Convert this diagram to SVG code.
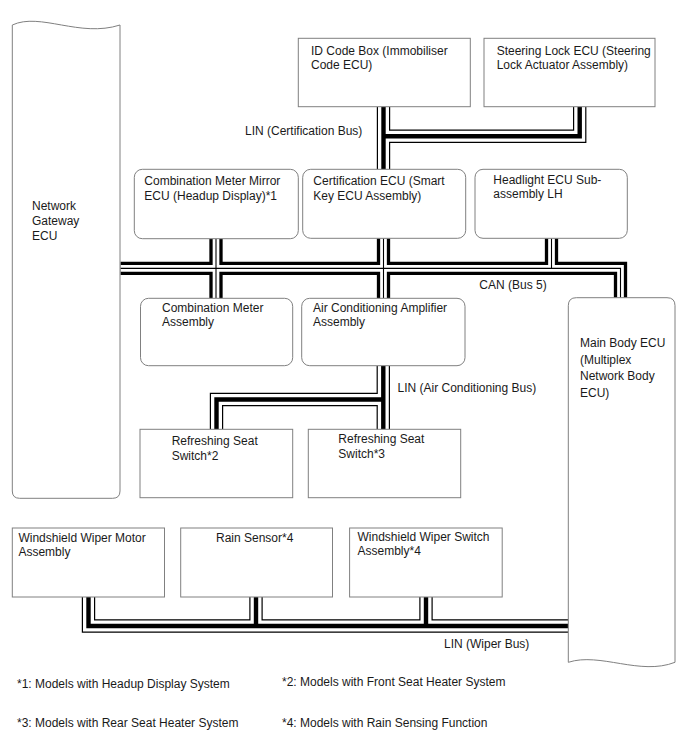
<svg xmlns="http://www.w3.org/2000/svg" xmlns:xlink="http://www.w3.org/1999/xlink" width="688" height="755" viewBox="0 0 688 755">
<style>
  .box { fill: #fff; stroke: #808080; stroke-width: 1; }
  text { font-family: "Liberation Sans", Arial, sans-serif; font-size: 12px; fill: #1a1a1a; }
  .bus use { fill: none; stroke-linejoin: miter; stroke-linecap: butt; }
  .lin-outer { stroke: #000; stroke-width: 13.4; }
  .lin-gap { stroke: #fff; stroke-width: 11; }
  .lin-core { stroke: #000; stroke-width: 4.4; }
  .can-outer { stroke: #000; stroke-width: 13.3; }
  .can-gap { stroke: #fff; stroke-width: 6.7; }
  .can-core { stroke: #000; stroke-width: 1.1; }
</style>
<defs>
  <path id="lc1" d="M383.5,106.7 V169.3"/>
  <path id="lc2" d="M579.7,106.7 V136.3 H383.5"/>
  <path id="can1" d="M120.5,268.4 H620.5 V297.7"/>
  <path id="can2" d="M216,238.7 V298.3"/>
  <path id="can3" d="M383.5,238.3 V298.3"/>
  <path id="can4" d="M551.5,238.3 V268.4"/>
  <path id="la1" d="M383.3,365.7 V429.3"/>
  <path id="la2" d="M383.3,399.5 H216.5 V429.3"/>
  <path id="lw1" d="M88.5,597 V626 H568.3"/>
  <path id="lw2" d="M256,597 V626"/>
  <path id="lw3" d="M426,597 V626"/>
</defs>

<g id="connectors">
  <g class="bus lin-outer"><use xlink:href="#lc1"/><use xlink:href="#lc2"/><use xlink:href="#la1"/><use xlink:href="#la2"/><use xlink:href="#lw1"/><use xlink:href="#lw2"/><use xlink:href="#lw3"/></g>
  <g class="bus lin-gap"><use xlink:href="#lc1"/><use xlink:href="#lc2"/><use xlink:href="#la1"/><use xlink:href="#la2"/><use xlink:href="#lw1"/><use xlink:href="#lw2"/><use xlink:href="#lw3"/></g>
  <g class="bus lin-core"><use xlink:href="#lc1"/><use xlink:href="#lc2"/><use xlink:href="#la1"/><use xlink:href="#la2"/><use xlink:href="#lw1"/><use xlink:href="#lw2"/><use xlink:href="#lw3"/></g>
  <g class="bus can-outer"><use xlink:href="#can1"/><use xlink:href="#can2"/><use xlink:href="#can3"/><use xlink:href="#can4"/></g>
  <g class="bus can-gap"><use xlink:href="#can1"/><use xlink:href="#can2"/><use xlink:href="#can3"/><use xlink:href="#can4"/></g>
  <g class="bus can-core"><use xlink:href="#can1"/><use xlink:href="#can2"/><use xlink:href="#can3"/><use xlink:href="#can4"/></g>
  <text x="245" y="134.5">LIN (Certification Bus)</text>
  <text x="479.3" y="288.5">CAN (Bus 5)</text>
  <text x="397.5" y="391.5">LIN (Air Conditioning Bus)</text>
  <text x="444" y="648">LIN (Wiper Bus)</text>
</g>

<g id="network-gateway-ecu">
  <path class="box" d="M12.3,25 C40,12 80,38 120,25 V491 Q120,498.3 112.7,498.3 H19.6 Q12.3,498.3 12.3,491 Z"/>
  <text x="32" y="209.5">Network</text>
  <text x="32" y="224.5">Gateway</text>
  <text x="32" y="239.5">ECU</text>
</g>

<g id="main-body-ecu">
  <path class="box" d="M576.3,297.7 H667 Q675,297.7 675,305.7 V662.3 C640,676 600,652 568.3,662.3 V305.7 Q568.3,297.7 576.3,297.7 Z"/>
  <text x="580" y="347">Main Body ECU</text>
  <text x="580" y="363.5">(Multiplex</text>
  <text x="580" y="380">Network Body</text>
  <text x="580" y="396.5">ECU)</text>
</g>

<g id="id-code-box">
  <rect class="box" x="298.3" y="38.3" width="172" height="68.4"/>
  <text x="311" y="54.5">ID Code Box (Immobiliser</text>
  <text x="311" y="69">Code ECU)</text>
</g>

<g id="steering-lock-ecu">
  <rect class="box" x="484" y="38.3" width="171" height="68.4"/>
  <text x="496.7" y="54.5">Steering Lock ECU (Steering</text>
  <text x="496.7" y="69">Lock Actuator Assembly)</text>
</g>

<g id="combination-meter-mirror-ecu">
  <rect class="box" x="134.3" y="169.3" width="164" height="69.4" rx="8"/>
  <text x="144.3" y="185">Combination Meter Mirror</text>
  <text x="144.3" y="199.5">ECU (Headup Display)*1</text>
</g>

<g id="certification-ecu">
  <rect class="box" x="302.7" y="169.3" width="163" height="69" rx="8"/>
  <text x="313.3" y="185">Certification ECU (Smart</text>
  <text x="313.3" y="199.5">Key ECU Assembly)</text>
</g>

<g id="headlight-ecu">
  <rect class="box" x="475" y="169.3" width="152.3" height="69" rx="8"/>
  <text x="493.3" y="183.5">Headlight ECU Sub-</text>
  <text x="493.3" y="198">assembly LH</text>
</g>

<g id="combination-meter-assembly">
  <rect class="box" x="140.5" y="298.3" width="152.2" height="67.4" rx="8"/>
  <text x="162" y="311.5">Combination Meter</text>
  <text x="162" y="326">Assembly</text>
</g>

<g id="air-conditioning-amplifier">
  <rect class="box" x="301.7" y="298.3" width="163.3" height="67.4" rx="8"/>
  <text x="313" y="311.5">Air Conditioning Amplifier</text>
  <text x="313" y="326">Assembly</text>
</g>

<g id="refreshing-seat-switch-2">
  <rect class="box" x="140" y="429.3" width="152.7" height="68.4"/>
  <text x="171.7" y="445">Refreshing Seat</text>
  <text x="171.7" y="460">Switch*2</text>
</g>

<g id="refreshing-seat-switch-3">
  <rect class="box" x="308.3" y="429.3" width="152.4" height="68.4"/>
  <text x="338.3" y="443.3">Refreshing Seat</text>
  <text x="338.3" y="458.3">Switch*3</text>
</g>

<g id="windshield-wiper-motor">
  <rect class="box" x="12.3" y="528" width="152.2" height="69"/>
  <text x="18.4" y="541.5">Windshield Wiper Motor</text>
  <text x="18.4" y="556">Assembly</text>
</g>

<g id="rain-sensor">
  <rect class="box" x="180.7" y="528" width="151.8" height="69"/>
  <text x="216" y="542">Rain Sensor*4</text>
</g>

<g id="windshield-wiper-switch">
  <rect class="box" x="349.6" y="528" width="152.6" height="69"/>
  <text x="357.5" y="540.5">Windshield Wiper Switch</text>
  <text x="357.5" y="555">Assembly*4</text>
</g>

<g id="footnotes">
  <text x="17" y="687.5">*1: Models with Headup Display System</text>
  <text x="282" y="686">*2: Models with Front Seat Heater System</text>
  <text x="17" y="726.5">*3: Models with Rear Seat Heater System</text>
  <text x="282" y="726.5">*4: Models with Rain Sensing Function</text>
</g>
</svg>
